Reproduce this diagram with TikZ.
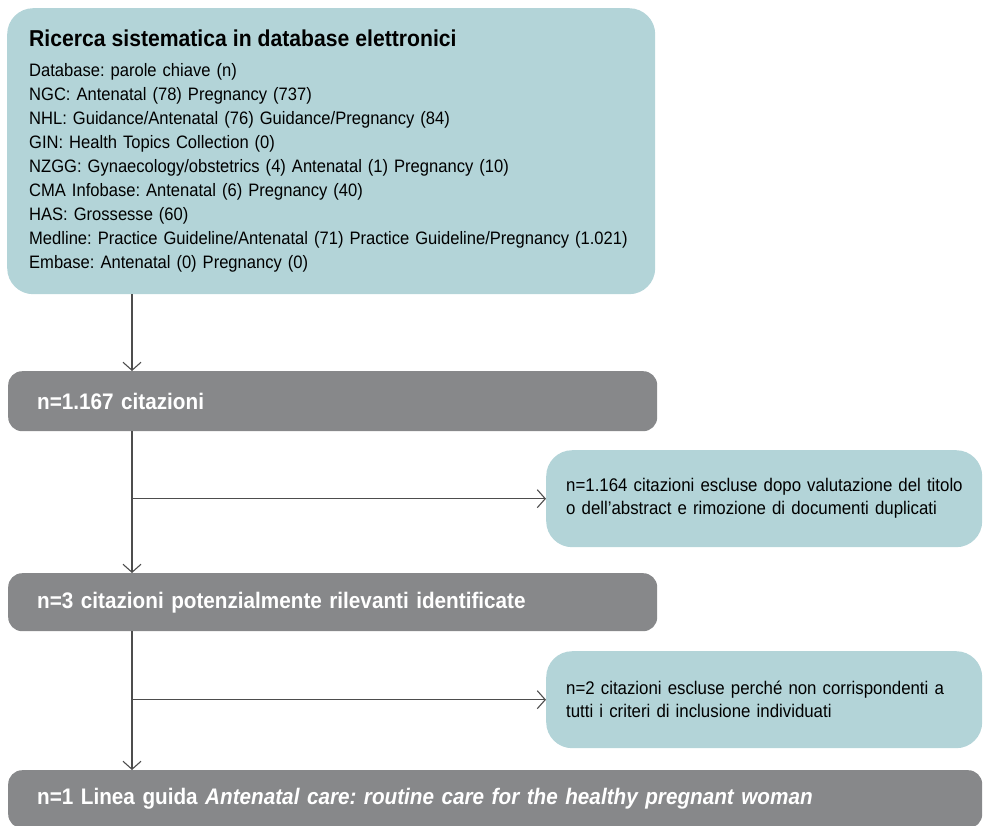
\documentclass[tikz,border=0pt]{standalone}
\usepackage{fontspec}
\setmainfont{Liberation Sans}[FakeStretch=0.92]
\usepackage{xcolor}
\usetikzlibrary{arrows.meta, positioning, calc}
\definecolor{tealfill}{HTML}{B3D4D8}
\definecolor{greyfill}{HTML}{87888A}
\definecolor{linegrey}{HTML}{4D4D4D}
\frenchspacing

\begin{document}
\begin{tikzpicture}[x=1pt,y=-1pt,
  tealbox/.style={fill=tealfill, rounded corners=26pt, anchor=north west, align=left,
    inner ysep=0pt, font=\fontsize{18.3}{23}\selectfont},
  greybox/.style={fill=greyfill, rounded corners=14pt, anchor=north west, align=left,
    text=white, inner xsep=29pt, inner ysep=0pt, font=\fontsize{22.5}{24}\selectfont\bfseries},
  arr/.style={draw=linegrey, line width=1.1pt, -{Straight Barb[length=8pt,width=18pt]}}]
\useasboundingbox (0,0) rectangle (983,825);

% search
\node[tealbox, inner xsep=22pt, text width=604pt, minimum height=286pt,
  font=\fontsize{18}{24}\selectfont] (search) at (7,8)
  {{\fontsize{23}{24}\selectfont\bfseries Ricerca sistematica in database elettronici}\\[6pt]
   Database: parole chiave (n)\\
   NGC: Antenatal (78) Pregnancy (737)\\
   NHL: Guidance/Antenatal (76) Guidance/Pregnancy (84)\\
   GIN: Health Topics Collection (0)\\
   NZGG: Gynaecology/obstetrics (4) Antenatal (1) Pregnancy (10)\\
   CMA Infobase: Antenatal (6) Pregnancy (40)\\
   HAS: Grossesse (60)\\
   Medline: Practice Guideline/Antenatal (71) Practice Guideline/Pregnancy (1.021)\\
   Embase: Antenatal (0) Pregnancy (0)};

% steps
\node[greybox, text width=591pt, minimum height=60pt] (cit) at (8,371) {n=1.167 citazioni};
\node[greybox, text width=591pt, minimum height=58pt] (rel) at (8,573)
  {n=3 citazioni potenzialmente rilevanti identificate};
\node[greybox, text width=916pt, minimum height=58pt] (final) at (8,770)
  {n=1 Linea guida \textit{Antenatal care: routine care for the healthy pregnant woman}};

% exclusions
\node[tealbox, inner xsep=20pt, text width=396pt, minimum height=97pt] (excl1) at (546,450)
  {\mbox{n=1.164 citazioni escluse dopo valutazione del titolo}\\
   o dell’abstract e rimozione di documenti duplicati};
\node[tealbox, inner xsep=20pt, text width=396pt, minimum height=97pt] (excl2) at (546,651)
  {\mbox{n=2 citazioni escluse perché non corrispondenti a}\\
   tutti i criteri di inclusione individuati};

% connectors
\coordinate (trunk) at (132,0);
\draw[arr] (search.south -| trunk) -- (cit.north -| trunk);
\draw[arr] (cit.south -| trunk) -- (rel.north -| trunk);
\draw[arr] (rel.south -| trunk) -- (final.north -| trunk);
\draw[arr] (excl1.west -| trunk) -- (excl1.west);
\draw[arr] (excl2.west -| trunk) -- (excl2.west);
\end{tikzpicture}
\end{document}
